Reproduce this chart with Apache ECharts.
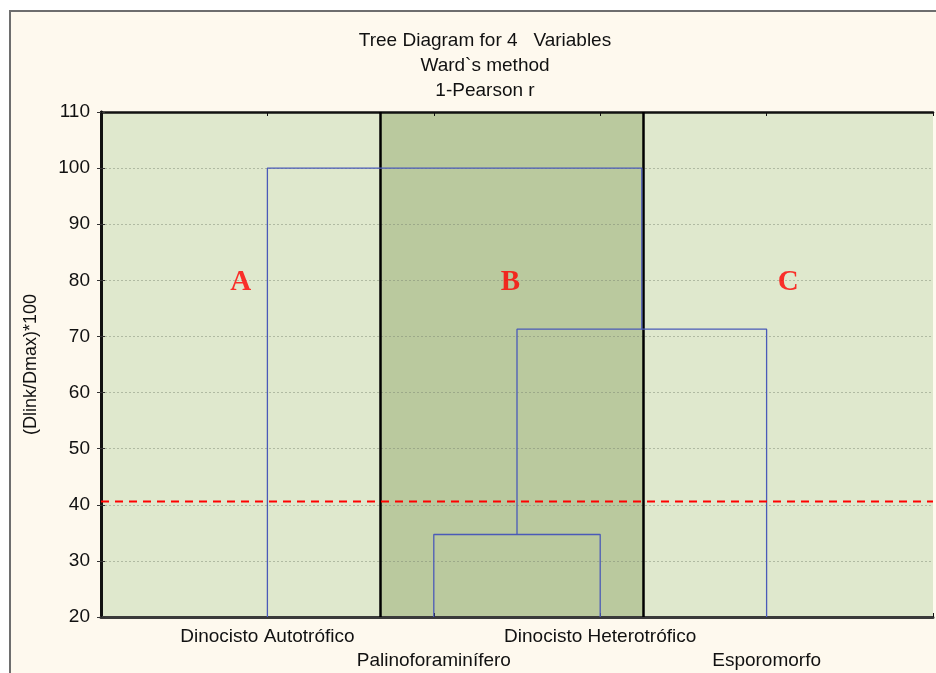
<!DOCTYPE html>
<html>
<head>
<meta charset="utf-8">
<script src="https://cdn.jsdelivr.net/npm/echarts@6/dist/echarts.min.js"></script>
<style>
  html, body { margin: 0; padding: 0; background: #ffffff; }
  #chart { width: 936px; height: 673px; }
</style>
</head>
<body>
<div id="chart"></div>
<script>
// Leaves of the tree, left to right, and their positions on the x scale
const leafNames = ['Dinocisto Autotrófico', 'Palinoforaminífero', 'Dinocisto Heterotrófico', 'Esporomorfo'];
const leafX = [1, 2, 3, 4];

// Agglomeration steps: positive = leaf number (1-based), negative = earlier step (-1 = first step)
const mergeLeft = [2, -1, 1];
const mergeRight = [3, 4, -2];
const mergeHeight = [34.7, 71.3, 100];

// Cut level and the three groups it defines
const cutHeight = 40.6;
const bandEdges = [0, 1.68, 3.26, 5];
const bandShade = ['light', 'dark', 'light'];
const clusterNames = ['A', 'B', 'C'];
const clusterX = [0.84, 2.46, 4.13];
const clusterY = [79.6, 79.6, 79.6];

// Axis ranges
const yMin = 20, yMax = 110, yStep = 10;
const xMin = 0, xMax = 5;

const titleLines = ['Tree Diagram for 4   Variables', 'Ward`s method', '1-Pearson r'];
const yName = '(Dlink/Dmax)*100';

const FONT = "'Liberation Sans', Arial, sans-serif";
const shadeColor = { light: '#dfe8cd', dark: '#bac99e' };

// Position and base height of every node in the tree
function nodeInfo(ref, nodes) {
  if (ref > 0) return { x: leafX[ref - 1], h: yMin };
  return nodes[-ref - 1];
}
const nodes = [];
const linkSeries = [];
for (let i = 0; i < mergeHeight.length; i++) {
  const a = nodeInfo(mergeLeft[i], nodes);
  const b = nodeInfo(mergeRight[i], nodes);
  const h = mergeHeight[i];
  nodes.push({ x: (a.x + b.x) / 2, h: h });
  linkSeries.push({
    type: 'line',
    z: 5,
    silent: true,
    symbol: 'none',
    lineStyle: { color: '#4a5ab8', width: 1.3 },
    data: [[a.x, a.h], [a.x, h], [b.x, h], [b.x, b.h]]
  });
}

// Group bands and their dividing lines
const bandAreas = [];
for (let i = 0; i < bandShade.length; i++) {
  bandAreas.push([
    { xAxis: bandEdges[i], itemStyle: { color: shadeColor[bandShade[i]] } },
    { xAxis: bandEdges[i + 1] }
  ]);
}
const dividers = bandEdges.slice(1, -1).map(v => ({ xAxis: v }));

const labelByX = {};
leafX.forEach((x, i) => { labelByX[x] = leafNames[i]; });

const chart = echarts.init(document.getElementById('chart'), null, { renderer: 'canvas' });

chart.setOption({
  animation: false,
  backgroundColor: '#ffffff',
  graphic: [{
    type: 'rect',
    z: -10,
    silent: true,
    shape: { x: 10, y: 11, width: 960, height: 700 },
    style: { fill: '#fef9ee', stroke: '#6e6e6e', lineWidth: 2 }
  }],
  title: {
    text: titleLines.join('\n'),
    left: 480,
    top: 23,
    textAlign: 'center',
    textStyle: { fontFamily: FONT, fontSize: 19, fontWeight: 'normal', color: '#111', lineHeight: 25 }
  },
  grid: { left: 101, right: 3, top: 112, bottom: 56, containLabel: false },
  xAxis: [{
    type: 'value',
    min: xMin, max: xMax, interval: 1,
    z: 3,
    axisLine: { show: true, lineStyle: { color: '#3a3a3a', width: 3 } },
    axisTick: { show: true, inside: true, length: 4, lineStyle: { color: '#111', width: 1 } },
    splitLine: { show: false },
    axisLabel: {
      margin: 8,
      fontFamily: FONT, fontSize: 19, color: '#111', lineHeight: 24,
      formatter: function (v) {
        const name = labelByX[v];
        if (!name) return '';
        const idx = leafX.indexOf(v);
        return idx % 2 === 1 ? '\n' + name : name;
      }
    }
  }, {
    type: 'value',
    position: 'top',
    min: xMin, max: xMax, interval: 1,
    z: 3,
    axisLine: { show: true, lineStyle: { color: '#111', width: 2.5 } },
    axisTick: { show: true, inside: true, length: 4, lineStyle: { color: '#111', width: 1 } },
    axisLabel: { show: false },
    splitLine: { show: false }
  }],
  yAxis: [{
    type: 'value',
    min: yMin, max: yMax, interval: yStep,
    z: 3,
    name: yName,
    nameLocation: 'middle',
    nameRotate: 90,
    nameGap: 61,
    nameTextStyle: { fontFamily: FONT, fontSize: 18, color: '#111' },
    axisLine: { show: true, lineStyle: { color: '#111', width: 2.5 } },
    axisTick: { show: true, inside: true, length: 4, lineStyle: { color: '#333', width: 1 } },
    axisLabel: { margin: 11, fontFamily: FONT, fontSize: 19, color: '#111' },
    splitLine: { show: true, lineStyle: { color: 'rgba(120,130,110,0.45)', width: 1, type: [2, 2] } }
  }, {
    type: 'value',
    position: 'right',
    min: yMin, max: yMax, interval: yStep,
    z: 3,
    axisLine: { show: true, lineStyle: { color: '#111', width: 3 } },
    axisTick: { show: true, inside: true, length: 4, lineStyle: { color: '#333', width: 1 } },
    axisLabel: { show: false },
    splitLine: { show: false }
  }],
  series: [
    {
      type: 'line',
      z: 1,
      silent: true,
      symbol: 'none',
      data: [],
      markArea: { silent: true, data: bandAreas },
      markLine: {
        silent: true,
        symbol: 'none',
        label: { show: false },
        lineStyle: { color: '#000', width: 2.5, type: 'solid' },
        data: dividers
      }
    },
    ...linkSeries,
    {
      type: 'line',
      z: 6,
      silent: true,
      symbol: 'none',
      lineStyle: { color: '#ff0000', width: 2, type: [8, 6] },
      data: [[xMin, cutHeight], [xMax, cutHeight]]
    },
    {
      type: 'scatter',
      z: 7,
      silent: true,
      symbolSize: 0,
      data: clusterNames.map((n, i) => ({ name: n, value: [clusterX[i], clusterY[i]] })),
      label: {
        show: true,
        position: 'inside',
        formatter: '{b}',
        fontFamily: "'Liberation Serif', 'Times New Roman', serif",
        fontWeight: 'bold',
        fontSize: 29,
        color: '#ff0000'
      }
    }
  ]
});
</script>
</body>
</html>
